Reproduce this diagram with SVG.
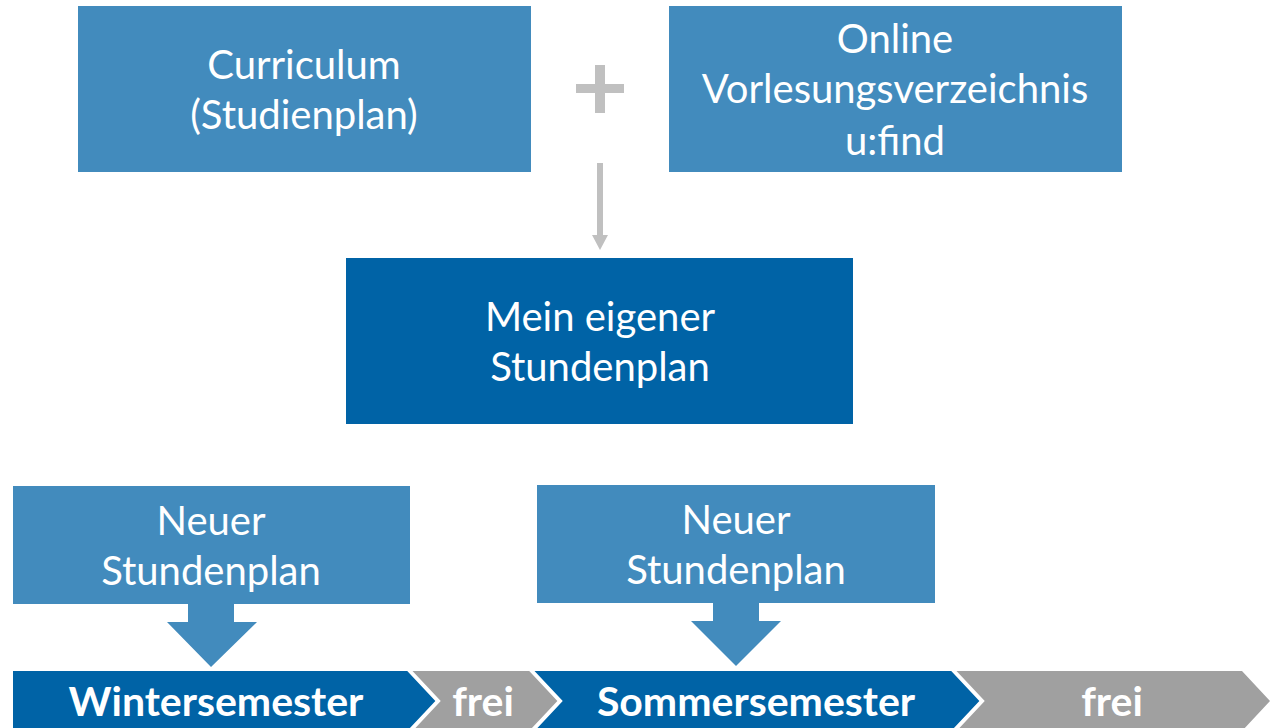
<svg xmlns="http://www.w3.org/2000/svg" width="1270" height="728" viewBox="0 0 1270 728">
<style>
.lb{fill:#428bbd}
.db{fill:#0063a6}
.gr{fill:#a0a0a0}
.t{font-family:Lato,"Noto Sans",sans-serif;font-size:40px;fill:#fff;text-anchor:middle}
.b{font-family:Lato,"Noto Sans",sans-serif;font-size:41px;font-weight:bold;fill:#fff;text-anchor:middle}
.sep{fill:none;stroke:#fff;stroke-width:4}
</style>
<g id="curriculum">
<rect class="lb" x="78" y="6" width="453" height="166"/>
<text class="t" x="304" y="79">Curriculum</text>
<text class="t" x="304" y="129">(Studienplan)</text>
</g>
<g id="plus">
<rect x="595" y="65" width="10" height="48" fill="#c0c0c0"/>
<rect x="576" y="84" width="48" height="9" fill="#c0c0c0"/>
</g>
<g id="vorlesungsverzeichnis">
<rect class="lb" x="669" y="6" width="453" height="166"/>
<text class="t" x="895" y="53">Online</text>
<text class="t" x="895" y="103">Vorlesungsverzeichnis</text>
<text class="t" x="895" y="155">u:find</text>
</g>
<g id="connectors">
<rect x="597" y="163" width="6" height="72" fill="#c0c0c0"/>
<polygon points="592,235 608,235 600,250" fill="#c0c0c0"/>
</g>
<g id="stundenplan">
<rect class="db" x="346" y="258" width="507" height="166"/>
<text class="t" x="600" y="331">Mein eigener</text>
<text class="t" x="600" y="381">Stundenplan</text>
</g>
<g id="neuer1">
<rect class="lb" x="13" y="486" width="397" height="118"/>
<polygon class="lb" points="188,603 234,603 234,622 257,622 211,667 167,622 188,622"/>
<text class="t" x="211" y="535">Neuer</text>
<text class="t" x="211" y="585">Stundenplan</text>
</g>
<g id="neuer2">
<rect class="lb" x="537" y="485" width="398" height="118"/>
<polygon class="lb" points="713,602 759,602 759,621 781,621 736,666 691,621 713,621"/>
<text class="t" x="736" y="534">Neuer</text>
<text class="t" x="736" y="584">Stundenplan</text>
</g>
<g id="timeline">
<polygon class="db" points="13,671 408,671 438,701 408,731 13,731"/>
<polygon class="gr" points="408,671 530,671 560,701 530,731 408,731 438,701"/>
<polygon class="db" points="530,671 952,671 982,701 952,731 530,731 560,701"/>
<polygon class="gr" points="952,671 1242,671 1270,701 1242,731 952,731 982,701"/>
<polyline class="sep" points="408,669 438,701 408,733"/>
<polyline class="sep" points="530,669 560,701 530,733"/>
<polyline class="sep" points="952,669 982,701 952,733"/>
<text class="b" x="216" y="716">Wintersemester</text>
<text class="b" x="483" y="716">frei</text>
<text class="b" x="756" y="716">Sommersemester</text>
<text class="b" x="1112" y="716">frei</text>
</g>
</svg>
